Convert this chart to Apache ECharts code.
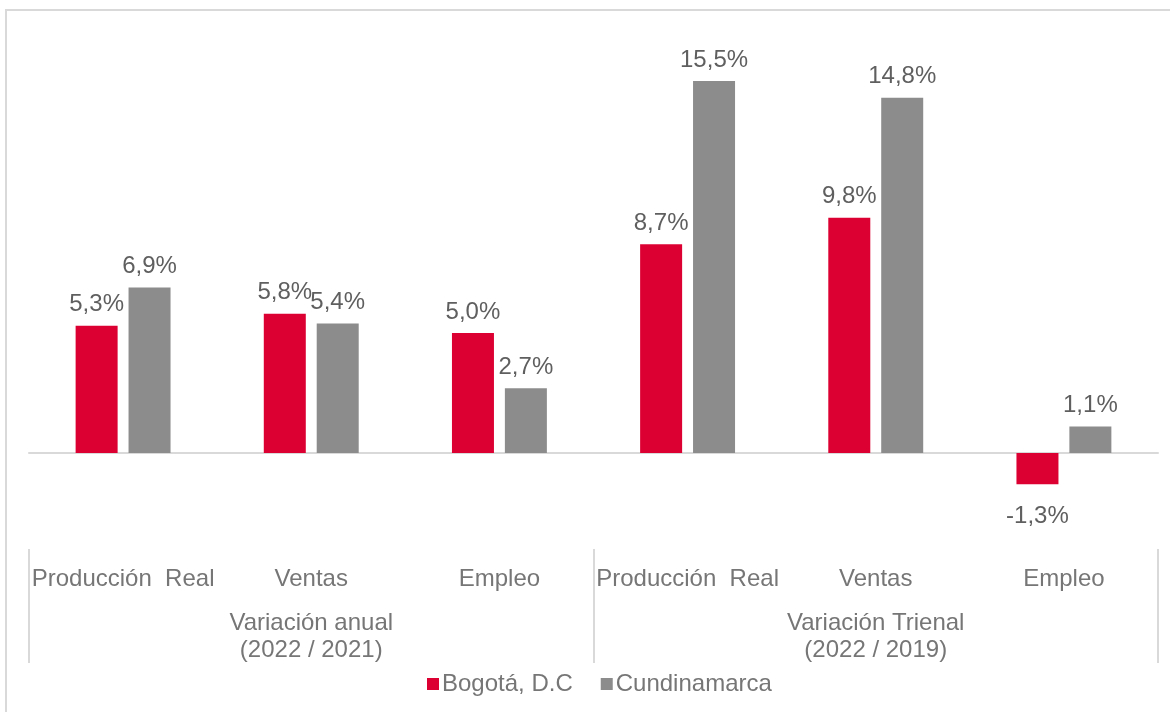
<!DOCTYPE html>
<html>
<head>
<meta charset="utf-8">
<script src="https://cdn.jsdelivr.net/npm/echarts@6/dist/echarts.min.js"></script>
<style>
	html, body { margin: 0; padding: 0; background: #fff; }
	#chart { width: 1170px; height: 712px; }
</style>
</head>
<body>
<div id="chart"></div>
<script>
// datos
var categorias = ["Producción  Real", "Ventas", "Empleo", "Producción  Real", "Ventas", "Empleo"];
var grupos = ["Variación anual\n(2022 / 2021)", "Variación Trienal\n(2022 / 2019)"];
var bogota = [5.3, 5.8, 5.0, 8.7, 9.8, -1.3];
var cundinamarca = [6.9, 5.4, 2.7, 15.5, 14.8, 1.1];

var textColor = "#767676";
var fuente = "'Liberation Sans', Arial, sans-serif";

function etiqueta(p) {
	return p.value.toFixed(1).replace(".", ",") + "%";
}

// negativos con la etiqueta abajo
function conEtiqueta(valores) {
	return valores.map(function (v) {
		if (v < 0) {
			return { value: v, label: { position: "bottom", distance: 20 } };
		}
		return v;
	});
}

var myChart = echarts.init(document.getElementById("chart"));

var option = {
	animation: false,
	textStyle: { fontFamily: fuente },
	graphic: [
		{
			type: "rect",
			shape: { x: 6, y: 10, width: 1180, height: 720 },
			style: { fill: "none", stroke: "#d9d9d9", lineWidth: 2 },
		},
	],
	legend: {
		top: 667,
		left: 422,
		itemWidth: 12,
		itemHeight: 12,
		itemGap: 28,
		icon: "rect",
		textStyle: { color: textColor, fontSize: 24, fontFamily: fuente, padding: [0, 0, 0, -2] },
		data: ["Bogotá, D.C", "Cundinamarca"],
	},
	grid: { left: 29, right: 12, top: 21, bottom: 163 },
	xAxis: [
		{
			type: "category",
			data: categorias,
			axisLine: { onZero: true, lineStyle: { color: "#d9d9d9", width: 2 } },
			axisTick: { show: false },
			axisLabel: { show: false },
		},
		{
			type: "category",
			data: categorias,
			position: "bottom",
			axisLine: { show: false, onZero: false },
			axisTick: { show: false },
			axisLabel: { interval: 0, color: textColor, fontSize: 24, margin: 18, fontFamily: fuente },
		},
		{
			type: "category",
			data: grupos,
			position: "bottom",
			axisLine: { show: false, onZero: false },
			axisTick: { show: true, length: 114, lineStyle: { color: "#d9d9d9", width: 2 } },
			axisLabel: { interval: 0, color: textColor, fontSize: 24, lineHeight: 27, margin: 61, fontFamily: fuente },
		},
	],
	yAxis: {
		type: "value",
		min: -4,
		max: 18,
		show: false,
		splitLine: { show: false },
	},
	series: [
		{
			name: "Bogotá, D.C",
			type: "bar",
			data: conEtiqueta(bogota),
			barWidth: 42,
			barGap: "26%",
			itemStyle: { color: "#dc0032" },
			label: {
				show: true,
				position: "top",
				distance: 9,
				color: "#5f5f5f",
				fontSize: 24,
				formatter: etiqueta,
			},
		},
		{
			name: "Cundinamarca",
			type: "bar",
			data: conEtiqueta(cundinamarca),
			barWidth: 42,
			itemStyle: { color: "#8c8c8c" },
			label: {
				show: true,
				position: "top",
				distance: 9,
				color: "#5f5f5f",
				fontSize: 24,
				formatter: etiqueta,
			},
		},
	],
};

myChart.setOption(option);
</script>
</body>
</html>
